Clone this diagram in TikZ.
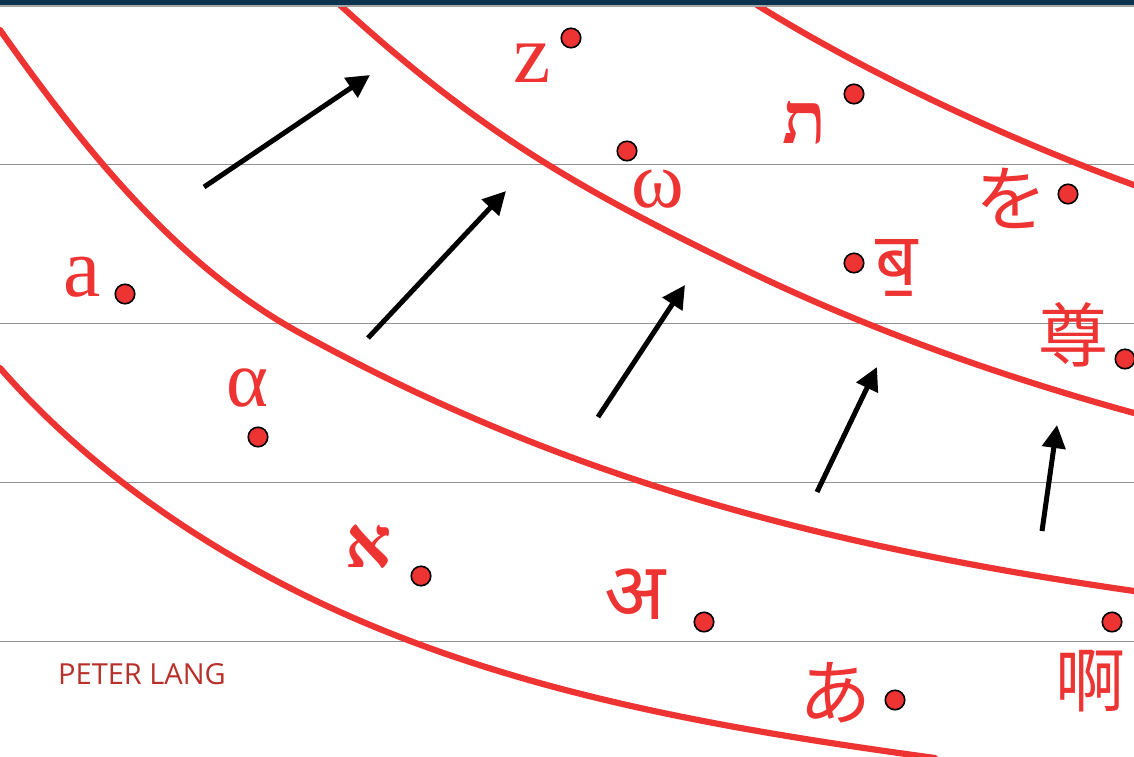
\documentclass[tikz,border=0pt]{standalone}
\usepackage{fontspec}
\setmainfont{Liberation Serif}
\newfontfamily\hebfont[Script=Hebrew]{Liberation Serif}
\newfontfamily\devfont[Script=Devanagari]{Noto Sans}
\newfontfamily\jpfont{Noto Sans CJK JP}
\newfontfamily\scfont{Noto Sans CJK SC}
\newfontfamily\logofont{Open Sans}
\usetikzlibrary{arrows.meta,positioning}
\definecolor{lred}{HTML}{EE3333}
\definecolor{logored}{HTML}{B8302A}
\definecolor{navy}{HTML}{0B3350}

\begin{document}
\begin{tikzpicture}[x=1pt, y=-1pt, curve/.style={draw=lred, line width=6.2pt, line cap=round}, guide/.style={draw=gray!85, line width=1pt}, pt/.style={draw=black, fill=lred, circle, line width=1.6pt, minimum size=19.5pt, inner sep=0pt}, arr/.style={-{Triangle[length=23pt,width=23pt]}, line width=5pt}, glyph/.style={text=lred, inner sep=0pt, anchor=center}]
	\clip (0,0) rectangle (1134,756);
	\foreach \y in {164,323,482,641} {\draw[guide] (0,\y) -- (1134,\y);}
	% the four bands
	\draw[curve] (0,30) .. controls (82,146) and (176,265) .. (300,333) .. controls (554,473) and (807,544) .. (1134,591);
	\draw[curve] (340,5) .. controls (480,133) and (580,190) .. (750,272) .. controls (873,331) and (1003,377) .. (1134,413);
	\draw[curve] (757,5) .. controls (868,74) and (1012,141) .. (1134,185);
	\draw[curve] (0,368) .. controls (82,462) and (188,537) .. (300,593) .. controls (495,690) and (715,728) .. (935,758);
	\fill[navy] (0,0) rectangle (1134,4.5); \fill[gray!70] (0,4.5) rectangle (1134,6.5);
	% shifts
	\foreach \i/\xa/\ya/\xb/\yb in {1/204/187/370/75, 2/368/338/506/191, 3/598/417/685/285, 4/817/492/877/367, 5/1042/531/1057/425} {\coordinate (t\i) at (\xa,\ya); \coordinate (h\i) at (\xb,\yb); \draw[arr] (t\i) -- (h\i);}
	\foreach \n/\x/\y in {a/125/294, al/258/437, z/571/38, om/627/151, tav/854/94, wo/1068/194, ba/854/263, zun/1125/359, alef/421/576, dev/704/622, hira/895/700, ah/1112/622} {\node[pt] (d\n) at (\x,\y) {};}
	\node[glyph, font=\fontsize{84}{84}\selectfont] (la) at (82,277) {a};
	\node[glyph, font=\fontsize{80}{80}\selectfont] (lal) at (247,388) {α};
	\node[glyph, font=\fontsize{84}{84}\selectfont] (lz) at (532,63) {z};
	\node[glyph, font=\fontsize{80}{80}\selectfont] (lom) at (658,189) {ω};
	\node[glyph, font=\hebfont\bfseries\fontsize{72}{72}\selectfont] (ltav) at (804,123) {ת};
	\node[glyph, font=\hebfont\bfseries\fontsize{72}{72}\selectfont] (lalef) at (369,547) {א};
	\node[glyph, font=\devfont\fontsize{74}{74}\selectfont] (lba) at (897,268) {ब॒};
	\node[glyph, font=\devfont\fontsize{80}{80}\selectfont] (ldev) at (635,594) {अ};
	\node[glyph, font=\jpfont\fontsize{72}{72}\selectfont] (lwo) at (1011,198) {を};
	\node[glyph, font=\jpfont\fontsize{72}{72}\selectfont] (lhira) at (835,693) {あ};
	\node[glyph, font=\scfont\fontsize{70}{70}\selectfont] (lzun) at (1073,335) {尊};
	\node[glyph, font=\scfont\fontsize{70}{70}\selectfont] (lah) at (1090,681) {啊};
	\node[text=logored, inner sep=0pt, font=\logofont\fontsize{29}{29}\selectfont] (logo) at (142,674) {PETER LANG};
\end{tikzpicture}
\end{document}
